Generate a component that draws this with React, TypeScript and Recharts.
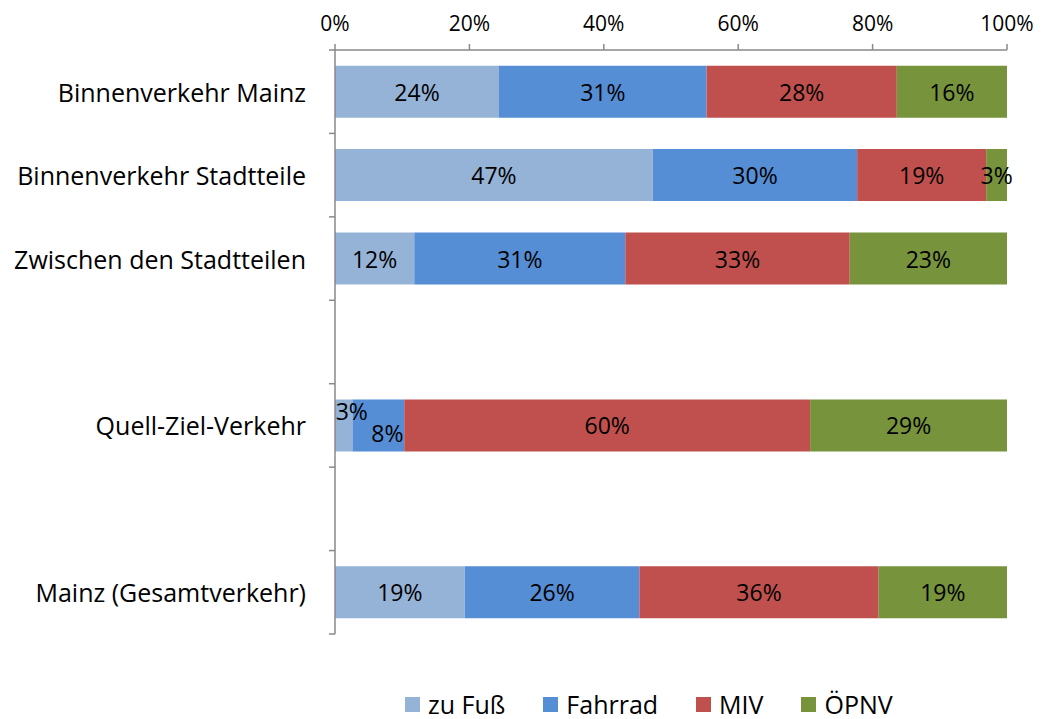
import React from "react";
import { BarChart, Bar, XAxis, YAxis, Legend, LabelList } from "recharts";

const categories = [
  "Binnenverkehr Mainz",
  "Binnenverkehr Stadtteile",
  "Zwischen den Stadtteilen",
  "",
  "Quell-Ziel-Verkehr",
  "",
  "Mainz (Gesamtverkehr)",
];
const zuFuss = [24.4, 47.3, 11.8, null, 2.6, null, 19.3];
const fahrrad = [30.9, 30.4, 31.4, null, 7.7, null, 26.0];
const miv = [28.3, 19.2, 33.4, null, 60.4, null, 35.6];
const oepnv = [16.4, 3.1, 23.4, null, 29.3, null, 19.1];
const xTicks = [0, 20, 40, 60, 80, 100];

const seriesNames = ["zu Fuß", "Fahrrad", "MIV", "ÖPNV"];
const seriesKeys = ["zuFuss", "fahrrad", "miv", "oepnv"];
const seriesColors = ["#95B3D7", "#558ED5", "#C0504D", "#77933C"];

const data = categories.map((c, i) => ({
  name: c,
  zuFuss: zuFuss[i],
  fahrrad: fahrrad[i],
  miv: miv[i],
  oepnv: oepnv[i],
}));

// rows that actually carry bars (label indices refer to these)
const barRows = categories.map((_, i) => i).filter((i) => zuFuss[i] !== null);

const FONT = "'Open Sans', sans-serif";
const W = 1033;
const H = 711;
const PLOT_LEFT = 327;
const PLOT_TOP = 42;
const PLOT_BOTTOM = 626;
const BAND = (PLOT_BOTTOM - PLOT_TOP) / categories.length;
const AXIS_COLOR = "#898989";

// manual label nudges (Quell-Ziel-Verkehr small segments)
const labelNudge: Record<string, { dx: number; dy: number }> = {
  "zuFuss-Quell-Ziel-Verkehr": { dx: 8, dy: -14 },
  "fahrrad-Quell-Ziel-Verkehr": { dx: 9, dy: 8 },
};

const YTick = (props: any) => {
  const { y, payload, index } = props;
  const top = y - BAND / 2;
  const bottom = y + BAND / 2;
  return (
    <g>
      <line x1={PLOT_LEFT - 6} x2={PLOT_LEFT} y1={top} y2={top} stroke={AXIS_COLOR} strokeWidth={1.5} />
      {index === categories.length - 1 && (
        <line x1={PLOT_LEFT - 6} x2={PLOT_LEFT} y1={bottom} y2={bottom} stroke={AXIS_COLOR} strokeWidth={1.5} />
      )}
      <text x={298} y={y} textAnchor="end" dominantBaseline="central" fontFamily={FONT} fontSize={25} fill="#000">
        {payload.value}
      </text>
    </g>
  );
};

const makeLabel = (key: string) => (props: any) => {
  const { x, y, width, height, value, index } = props;
  if (value === null || value === undefined || !width) return null;
  const row = barRows[index];
  const n = labelNudge[`${key}-${categories[row]}`] || { dx: 0, dy: 0 };
  return (
    <text
      x={x + width / 2 + n.dx}
      y={y + height / 2 + n.dy}
      textAnchor="middle"
      dominantBaseline="central"
      fontFamily={FONT}
      fontSize={23}
      fill="#000"
    >
      {Math.round(value)}%
    </text>
  );
};

const LegendContent = () => (
  <div
    style={{
      display: "flex",
      justifyContent: "flex-start",
      alignItems: "center",
      paddingLeft: 397,
      fontFamily: FONT,
      fontSize: 25,
      color: "#000",
      height: 30,
    }}
  >
    {seriesNames.map((n, i) => (
      <div key={n} style={{ display: "flex", alignItems: "center", marginRight: 38 }}>
        <span style={{ display: "inline-block", width: 15, height: 15, background: seriesColors[i], marginRight: 8 }} />
        <span style={{ lineHeight: "30px" }}>{n}</span>
      </div>
    ))}
  </div>
);

export default function App() {
  return (
    <div style={{ width: W, height: H, background: "#fff", position: "relative" }}>
      <BarChart
        width={W}
        height={H}
        data={data}
        layout="vertical"
        margin={{ top: 0, right: 34, bottom: 55, left: 0 }}
        barCategoryGap="18.8%"
      >
        <XAxis
          type="number"
          orientation="top"
          domain={[0, 100]}
          ticks={xTicks}
          tickFormatter={(v: number) => `${v}%`}
          height={PLOT_TOP}
          axisLine={{ stroke: AXIS_COLOR, strokeWidth: 1.5 }}
          tickLine={{ stroke: AXIS_COLOR, strokeWidth: 1.5 }}
          tickSize={6}
          tickMargin={13}
          tick={{ fontFamily: FONT, fontSize: 21, fill: "#000" }}
          allowDataOverflow
        />
        <YAxis
          type="category"
          dataKey="name"
          width={PLOT_LEFT}
          axisLine={{ stroke: AXIS_COLOR, strokeWidth: 1.5 }}
          tickLine={false}
          tick={<YTick />}
          interval={0}
        />
        <Legend
          verticalAlign="bottom"
          content={<LegendContent />}
          wrapperStyle={{ bottom: 0, left: 0, width: W }}
        />
        {seriesKeys.map((k, i) => (
          <Bar key={k} dataKey={k} name={seriesNames[i]} stackId="a" fill={seriesColors[i]} isAnimationActive={false}>
            <LabelList dataKey={k} content={makeLabel(k)} />
          </Bar>
        ))}
      </BarChart>
    </div>
  );
}
